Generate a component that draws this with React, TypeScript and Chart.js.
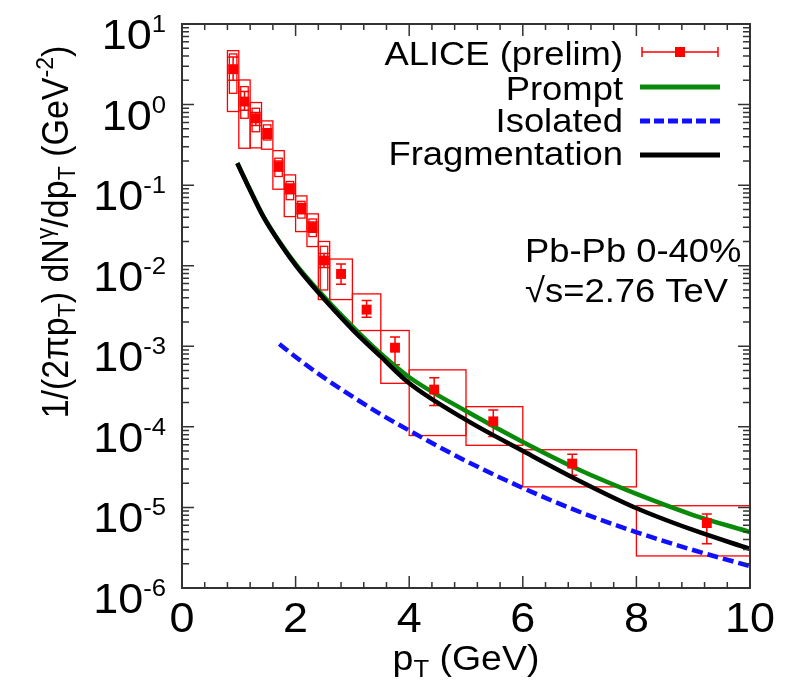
import React, { useEffect, useRef } from 'react';
import { Chart, registerables } from 'chart.js';

Chart.register(...registerables);

// ---------------- data ----------------
// ALICE (prelim) data points
const ptX = [0.9, 1.1, 1.3, 1.5, 1.7, 1.9, 2.1, 2.3, 2.5, 2.8, 3.25, 3.75, 4.44, 5.48, 6.87, 9.24];
const ptY = [2.75, 1.09, 0.675, 0.435, 0.17, 0.09, 0.051, 0.03, 0.0116, 0.0079, 0.00285, 0.00096, 2.9e-4, 1.17e-4, 3.5e-5, 6.4e-6];
// bin edges (systematic boxes)
const binLo = [0.8, 1.0, 1.2, 1.4, 1.6, 1.8, 2.0, 2.2, 2.4, 2.6, 3.0, 3.5, 4.0, 5.0, 6.0, 8.0];
const binHi = [1.0, 1.2, 1.4, 1.6, 1.8, 2.0, 2.2, 2.4, 2.6, 3.0, 3.5, 4.0, 5.0, 6.0, 8.0, 10.0];
// outer systematic box
const sysLo = [0.82, 0.287, 0.29, 0.279, 0.089, 0.0407, 0.0265, 0.0173, 0.0038, 0.0038, 0.00157, 3.47e-4, 7.8e-5, 5.9e-5, 1.8e-5, 2.5e-6];
const sysHi = [4.67, 2.02, 1.06, 0.627, 0.268, 0.134, 0.0735, 0.044, 0.02, 0.0121, 0.00447, 1.57e-3, 5.1e-4, 1.78e-4, 5.2e-5, 1.05e-5];
// inner systematic box (low pT points only)
const sys2Lo = [1.38, 0.676, 0.46, 0.363, 0.128, 0.066, 0.039, 0.023, 0.005];
const sys2Hi = [4.25, 1.67, 0.9, 0.56, 0.216, 0.111, 0.063, 0.038, 0.0174];
// statistical error bars
const statLo = [2.0, 0.85, 0.55, 0.38, 0.15, 0.078, 0.044, 0.026, 0.0095, 0.0059, 0.00229, 5.9e-4, 1.84e-4, 7.6e-5, 2.5e-5, 3.55e-6];
const statHi = [3.9, 1.45, 0.8, 0.5, 0.2, 0.103, 0.059, 0.035, 0.0142, 0.0105, 0.00369, 1.3e-3, 4.07e-4, 1.62e-4, 4.57e-5, 8.3e-6];

// Prompt (green)
const promptX = [0.974, 1.197, 1.431, 1.725, 2.019, 2.312, 3.011, 3.486, 3.996, 5.0, 6.0, 7.0, 8.0, 9.0, 10.0];
const promptY = [0.188, 0.0883, 0.0414, 0.0194, 0.01007, 0.00577, 0.00173, 8.26e-4, 4.16e-4, 1.57e-4, 6.49e-5, 2.91e-5, 1.47e-5, 8.05e-6, 4.95e-6];
// Isolated (blue dashed)
const isoX = [1.713, 2.025, 2.43, 3.011, 3.486, 4.014, 5.0, 6.004, 7.007, 7.993, 8.996, 10.0];
const isoY = [1.07e-3, 7.16e-4, 4.41e-4, 2.35e-4, 1.45e-4, 8.89e-5, 3.77e-5, 1.74e-5, 8.77e-6, 4.95e-6, 2.96e-6, 1.87e-6];
// Fragmentation (black)
const fragX = [0.974, 1.197, 1.431, 1.725, 2.019, 2.312, 3.011, 3.486, 3.996, 5.0, 6.004, 7.0, 7.993, 8.996, 10.0];
const fragY = [0.187, 0.0871, 0.0406, 0.019, 0.00973, 0.00548, 0.00159, 7.6e-4, 3.5e-4, 1.22e-4, 5.01e-5, 2.13e-5, 9.84e-6, 5.25e-6, 3.05e-6];

// axis ticks
const xTicks = [0, 2, 4, 6, 8, 10];
const yExps = [1, 0, -1, -2, -3, -4, -5, -6];

const legendLabels = ['ALICE (prelim)', 'Prompt', 'Isolated', 'Fragmentation'];
const noteLines = ['Pb-Pb 0-40%', '\u221As=2.76 TeV'];

// ---------------- styles ----------------
const RED = '#ff0000';
const GREEN = '#0a8a0a';
const BLUE = '#1010ff';
const BLACK = '#000000';
const AXIS = '#333333';
const FONT = '"Liberation Sans", Arial, Helvetica, sans-serif';
const SX = 1.07;

type Seg = { t: string; s: number; dy?: number };

function segsWidth(ctx: CanvasRenderingContext2D, segs: Seg[]) {
  let w = 0;
  for (const g of segs) {
    ctx.font = `${g.s}px ${FONT}`;
    w += ctx.measureText(g.t).width;
  }
  return w;
}

function drawSegs(
  ctx: CanvasRenderingContext2D,
  segs: Seg[],
  x: number,
  y: number,
  align: 'left' | 'right' | 'center',
  sx: number
) {
  const w = segsWidth(ctx, segs) * sx;
  const x0 = align === 'right' ? x - w : align === 'center' ? x - w / 2 : x;
  ctx.save();
  ctx.translate(x0, y);
  ctx.scale(sx, 1);
  ctx.textAlign = 'left';
  ctx.textBaseline = 'alphabetic';
  let px = 0;
  for (const g of segs) {
    ctx.font = `${g.s}px ${FONT}`;
    ctx.fillText(g.t, px, g.dy || 0);
    px += ctx.measureText(g.t).width;
  }
  ctx.restore();
}

const customPlugin = {
  id: 'customDecor',
  beforeDatasetsDraw(chart: any) {
    const ctx: CanvasRenderingContext2D = chart.ctx;
    const xs = chart.scales.x;
    const ys = chart.scales.y;
    ctx.save();
    ctx.strokeStyle = RED;
    ctx.lineWidth = 1.3;
    for (let i = 0; i < ptX.length; i++) {
      const x1 = xs.getPixelForValue(binLo[i]);
      const x2 = xs.getPixelForValue(binHi[i]);
      const y1 = ys.getPixelForValue(sysHi[i]);
      const y2 = ys.getPixelForValue(sysLo[i]);
      ctx.strokeRect(x1, y1, x2 - x1, y2 - y1);
    }
    for (let i = 0; i < sys2Lo.length; i++) {
      const c = xs.getPixelForValue(ptX[i]);
      const half = (xs.getPixelForValue(binHi[i]) - xs.getPixelForValue(binLo[i])) * 0.33;
      const y1 = ys.getPixelForValue(sys2Hi[i]);
      const y2 = ys.getPixelForValue(sys2Lo[i]);
      ctx.strokeRect(c - half, y1, 2 * half, y2 - y1);
    }
    ctx.lineWidth = 1.5;
    for (let i = 0; i < ptX.length; i++) {
      const c = xs.getPixelForValue(ptX[i]);
      const y1 = ys.getPixelForValue(statHi[i]);
      const y2 = ys.getPixelForValue(statLo[i]);
      ctx.beginPath();
      ctx.moveTo(c, y1);
      ctx.lineTo(c, y2);
      ctx.moveTo(c - 5, y1);
      ctx.lineTo(c + 5, y1);
      ctx.moveTo(c - 5, y2);
      ctx.lineTo(c + 5, y2);
      ctx.stroke();
    }
    ctx.restore();
  },
  afterDraw(chart: any) {
    const ctx: CanvasRenderingContext2D = chart.ctx;
    const xs = chart.scales.x;
    const ys = chart.scales.y;
    const a = chart.chartArea;
    ctx.save();
    // frame
    ctx.strokeStyle = AXIS;
    ctx.lineWidth = 2;
    ctx.strokeRect(a.left, a.top, a.right - a.left, a.bottom - a.top);
    ctx.lineWidth = 1.5;
    ctx.beginPath();
    // y ticks
    for (const e of yExps) {
      const y = ys.getPixelForValue(Math.pow(10, e));
      ctx.moveTo(a.left, y);
      ctx.lineTo(a.left + 12, y);
      ctx.moveTo(a.right, y);
      ctx.lineTo(a.right - 12, y);
      if (e > -6) {
        for (let k = 2; k <= 9; k++) {
          const ym = ys.getPixelForValue(k * Math.pow(10, e - 1));
          ctx.moveTo(a.left, ym);
          ctx.lineTo(a.left + 7, ym);
          ctx.moveTo(a.right, ym);
          ctx.lineTo(a.right - 7, ym);
        }
      }
    }
    // x ticks
    for (let i = 0; i <= 25; i++) {
      const v = i * 0.4;
      const x = xs.getPixelForValue(v);
      const major = i % 5 === 0;
      const len = major ? 12 : 6;
      ctx.moveTo(x, a.bottom);
      ctx.lineTo(x, a.bottom - len);
      ctx.moveTo(x, a.top);
      ctx.lineTo(x, a.top + len);
    }
    ctx.stroke();

    ctx.fillStyle = '#000';
    // y tick labels
    for (const e of yExps) {
      const y = ys.getPixelForValue(Math.pow(10, e));
      drawSegs(ctx, [{ t: '10', s: 42 }, { t: String(e), s: 24, dy: -17 }], 166, y + 25, 'right', SX);
    }
    // x tick labels
    for (const v of xTicks) {
      const x = xs.getPixelForValue(v);
      drawSegs(ctx, [{ t: String(v), s: 42 }], x, 632, 'center', SX);
    }
    // x title
    drawSegs(
      ctx,
      [{ t: 'p', s: 35 }, { t: 'T', s: 24, dy: 7 }, { t: ' (GeV)', s: 35 }],
      (a.left + a.right) / 2,
      670,
      'center',
      SX
    );
    // y title
    ctx.save();
    ctx.translate(68, 232);
    ctx.scale(SX, 1);
    ctx.rotate(-Math.PI / 2);
    drawSegs(
      ctx,
      [
        { t: '1/(2\u03C0p', s: 34 },
        { t: 'T', s: 23, dy: 7 },
        { t: ') dN', s: 34 },
        { t: '\u03B3', s: 23, dy: -14 },
        { t: '/dp', s: 34 },
        { t: 'T', s: 23, dy: 7 },
        { t: ' (GeV', s: 34 },
        { t: '-2', s: 23, dy: -14 },
        { t: ')', s: 34 },
      ],
      0,
      0,
      'center',
      1
    );
    ctx.restore();

    // legend
    const rowY = [52, 87, 121, 155];
    const baseY = [65, 100, 132, 165];
    for (let i = 0; i < legendLabels.length; i++) {
      drawSegs(ctx, [{ t: legendLabels[i], s: 34 }], 623, baseY[i], 'right', SX);
    }
    // ALICE sample
    ctx.strokeStyle = RED;
    ctx.lineWidth = 1.5;
    ctx.beginPath();
    ctx.moveTo(642, rowY[0]);
    ctx.lineTo(718, rowY[0]);
    ctx.moveTo(642, rowY[0] - 5);
    ctx.lineTo(642, rowY[0] + 5);
    ctx.moveTo(718, rowY[0] - 5);
    ctx.lineTo(718, rowY[0] + 5);
    ctx.stroke();
    ctx.fillStyle = RED;
    ctx.fillRect(675, rowY[0] - 5, 10, 10);
    // line samples
    const samples = [
      { c: GREEN, d: [] as number[], y: rowY[1] },
      { c: BLUE, d: [10, 4], y: rowY[2] },
      { c: BLACK, d: [] as number[], y: rowY[3] },
    ];
    for (const s of samples) {
      ctx.strokeStyle = s.c;
      ctx.lineWidth = 5;
      ctx.setLineDash(s.d);
      ctx.beginPath();
      ctx.moveTo(640, s.y);
      ctx.lineTo(720, s.y);
      ctx.stroke();
    }
    ctx.setLineDash([]);

    // annotation
    ctx.fillStyle = '#000';
    drawSegs(ctx, [{ t: noteLines[0], s: 34 }], 525, 262, 'left', SX);
    drawSegs(ctx, [{ t: noteLines[1], s: 34 }], 525, 302, 'left', SX);
    ctx.restore();
  },
};

function pts(xsArr: number[], ysArr: number[]) {
  return xsArr.map((x, i) => ({ x, y: ysArr[i] }));
}

export default function App() {
  const ref = useRef<HTMLCanvasElement | null>(null);
  useEffect(() => {
    if (!ref.current) return;
    const lineCommon = {
      type: 'line' as const,
      pointRadius: 0,
      borderWidth: 4.5,
      tension: 0.4,
      cubicInterpolationMode: 'monotone' as const,
      fill: false,
    };
    const chart = new Chart(ref.current, {
      type: 'line',
      data: {
        datasets: [
          {
            type: 'scatter',
            label: legendLabels[0],
            data: pts(ptX, ptY),
            pointStyle: 'rect',
            pointRadius: 7,
            backgroundColor: RED,
            borderColor: RED,
            borderWidth: 0,
            showLine: false,
            order: 0,
          } as any,
          { ...lineCommon, label: legendLabels[3], data: pts(fragX, fragY), borderColor: BLACK, order: 1 } as any,
          { ...lineCommon, label: legendLabels[2], data: pts(isoX, isoY), borderColor: BLUE, borderDash: [11, 5], order: 2 } as any,
          { ...lineCommon, label: legendLabels[1], data: pts(promptX, promptY), borderColor: GREEN, order: 3 } as any,
        ],
      },
      options: {
        animation: false,
        responsive: false,
        devicePixelRatio: 1,
        layout: { padding: { left: 182, right: 46, top: 24, bottom: 98 } },
        plugins: { legend: { display: false }, tooltip: { enabled: false } },
        scales: {
          x: { type: 'linear', min: 0, max: 10, display: false },
          y: { type: 'logarithmic', min: 1e-6, max: 10, display: false },
        },
      },
      plugins: [customPlugin],
    });
    return () => chart.destroy();
  }, []);
  return (
    <div style={{ position: 'absolute', left: 0, top: 0, width: 796, height: 686, background: '#fff' }}>
      <canvas ref={ref} width={796} height={686} style={{ display: 'block' }} />
    </div>
  );
}
